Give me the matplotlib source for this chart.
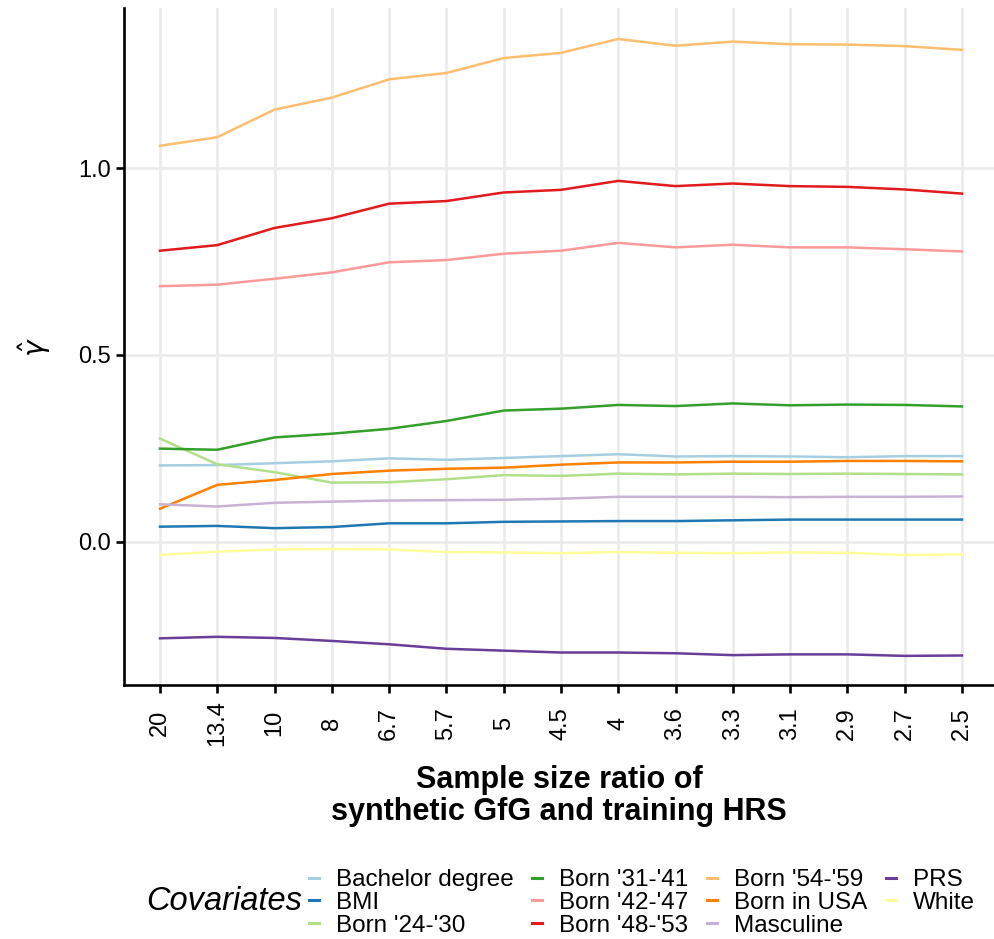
import matplotlib
matplotlib.use("Agg")
import matplotlib.pyplot as plt

plt.rcParams['font.family'] = ['Liberation Sans', 'DejaVu Sans']
plt.rcParams['mathtext.fontset'] = 'dejavusans'

# x categories (sample size ratio), kept in plotting order
ratios = ["20", "13.4", "10", "8", "6.7", "5.7", "5", "4.5", "4",
          "3.6", "3.3", "3.1", "2.9", "2.7", "2.5"]

bachelor = [0.204, 0.205, 0.210, 0.215, 0.223, 0.219, 0.224, 0.229, 0.234,
            0.228, 0.229, 0.228, 0.226, 0.229, 0.229]
bmi = [0.040, 0.042, 0.036, 0.039, 0.049, 0.049, 0.053, 0.054, 0.055,
       0.055, 0.057, 0.059, 0.059, 0.059, 0.059]
born_24_30 = [0.276, 0.207, 0.186, 0.158, 0.159, 0.167, 0.178, 0.176, 0.182,
              0.180, 0.182, 0.181, 0.182, 0.181, 0.180]
born_31_41 = [0.249, 0.246, 0.279, 0.289, 0.302, 0.323, 0.351, 0.356, 0.366,
              0.363, 0.370, 0.365, 0.367, 0.366, 0.362]
born_42_47 = [0.684, 0.688, 0.704, 0.721, 0.748, 0.754, 0.771, 0.779, 0.800,
              0.788, 0.795, 0.788, 0.788, 0.783, 0.777]
born_48_53 = [0.779, 0.794, 0.840, 0.866, 0.905, 0.912, 0.935, 0.942, 0.966,
              0.952, 0.959, 0.952, 0.950, 0.943, 0.932]
born_54_59 = [1.060, 1.083, 1.157, 1.189, 1.238, 1.255, 1.295, 1.309, 1.346,
              1.328, 1.339, 1.332, 1.331, 1.327, 1.317]
born_usa = [0.088, 0.152, 0.165, 0.181, 0.190, 0.195, 0.198, 0.206, 0.212,
            0.212, 0.214, 0.214, 0.216, 0.216, 0.215]
masculine = [0.100, 0.094, 0.104, 0.107, 0.110, 0.111, 0.112, 0.115, 0.120,
             0.120, 0.120, 0.119, 0.120, 0.120, 0.121]
prs = [-0.259, -0.255, -0.258, -0.266, -0.275, -0.287, -0.292, -0.297, -0.297,
       -0.299, -0.304, -0.302, -0.302, -0.306, -0.305]
white = [-0.036, -0.027, -0.021, -0.020, -0.021, -0.028, -0.029, -0.031, -0.028,
         -0.030, -0.031, -0.029, -0.030, -0.036, -0.034]

labels = ["Bachelor degree", "BMI", "Born '24-'30", "Born '31-'41",
          "Born '42-'47", "Born '48-'53", "Born '54-'59", "Born in USA",
          "Masculine", "PRS", "White"]
series = [bachelor, bmi, born_24_30, born_31_41, born_42_47, born_48_53,
          born_54_59, born_usa, masculine, prs, white]
colors = ["#A6CEE3", "#1F78B4", "#B2DF8A", "#33A02C", "#FB9A99", "#E31A1C",
          "#FDBF6F", "#FF7F00", "#CAB2D6", "#6A3D9A", "#FFFF99"]

W, H = 994, 939
fig = plt.figure(figsize=(W / 100, H / 100), dpi=100)
ax = fig.add_axes([124 / W, 1 - 685 / H, (W - 124) / W, (685 - 8) / H])

xpos = list(range(len(ratios)))
handles = []
for lab, vals, col in zip(labels, series, colors):
    h, = ax.plot(xpos, vals, color=col, lw=1.8, label=lab, zorder=3)
    handles.append(h)

ax.set_xlim(-0.628, 14.56)
ax.set_ylim(-0.384, 1.429)
ax.set_yticks([0.0, 0.5, 1.0])
ax.set_yticklabels(["0.0", "0.5", "1.0"])
ax.set_xticks(xpos)
ax.set_xticklabels(ratios, rotation=90, va='center')

ax.grid(True, color='#EBEBEB', lw=1.9, zorder=0)
ax.set_axisbelow(True)
for s in ['top', 'right']:
    ax.spines[s].set_visible(False)
for s in ['left', 'bottom']:
    ax.spines[s].set_linewidth(1.9)
    ax.spines[s].set_color('black')

ax.tick_params(axis='both', length=5.5, width=1.9, color='black',
               labelsize=17, labelcolor='black')
ax.tick_params(axis='y', pad=4)
ax.tick_params(axis='x', pad=22)

# y label (gamma hat)
fig.text(35 / W, 1 - 347 / H, r'$\hat{\gamma}$', rotation=90,
         ha='center', va='center', fontsize=20)

# x label
fig.text((124 + W) / 2 / W, 1 - 796 / H,
         "Sample size ratio of\nsynthetic GfG and training HRS",
         ha='center', va='center', fontsize=22, fontweight='bold',
         multialignment='center', linespacing=1.12)

# legend
fig.text(146 / W, 1 - 902 / H, "Covariates", fontsize=23.5, style='italic',
         ha='left', va='center')
leg = fig.legend(handles=handles, loc='center left',
                 bbox_to_anchor=(309 / W, 1 - 903 / H), ncol=4,
                 frameon=False, fontsize=17.5, handlelength=0.4,
                 handletextpad=0.7, columnspacing=0.78, labelspacing=0.03,
                 borderpad=0, borderaxespad=0)
for line in leg.get_lines():
    line.set_linewidth(2.2)

fig.savefig("out.png", dpi=100)
